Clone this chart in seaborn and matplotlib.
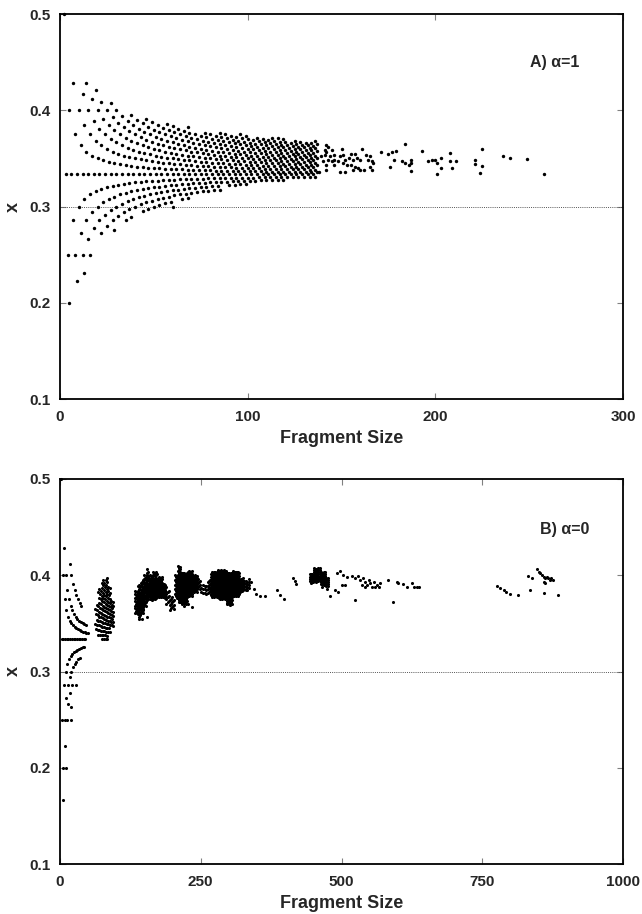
import numpy as np
import pandas as pd
import matplotlib
matplotlib.use("Agg")
import matplotlib.pyplot as plt
import seaborn as sns

# ---------------- Panel A (alpha = 1) ----------------
# Compositions come as fractions k/n of a fragment of size n.
# Dense part: for each band of sizes, every fraction k/n that lies in [lo, hi].
band_a_start = [2, 3, 7, 10, 14, 17, 23, 31, 41, 51, 61, 71, 86, 101, 121]
band_a_end = [2, 6, 9, 13, 16, 22, 30, 40, 50, 60, 70, 85, 100, 120, 137]
band_a_lo = [0.50, 0.19, 0.22, 0.225, 0.245, 0.265, 0.27, 0.285, 0.295, 0.300, 0.307, 0.315, 0.322, 0.326, 0.330]
band_a_hi = [0.50, 0.41, 0.43, 0.42, 0.43, 0.425, 0.41, 0.397, 0.392, 0.388, 0.383, 0.378, 0.375, 0.372, 0.368]
band_a_step = [1] * 15

# Sparse tail of large fragments
sparse_a_size = [142, 143, 141, 142, 145, 139, 141, 144, 146, 140, 143, 145, 146, 142, 146, 138, 142,
                 150, 149, 151, 152, 148, 151, 153, 149, 152,
                 155, 157, 154, 156, 158, 160, 155, 157, 159, 156, 160,
                 161, 163, 165, 164, 166, 167, 165, 162, 166,
                 171, 175, 177, 179, 184, 178, 176, 182, 184, 186, 187, 187, 187,
                 193, 196, 198, 200, 203, 201, 203, 201, 208, 208, 211, 209,
                 225, 221, 221, 225, 224, 236, 240, 249, 258]
sparse_a_x = [0.364, 0.362, 0.359, 0.357, 0.359, 0.352, 0.354, 0.352, 0.354, 0.347, 0.348, 0.347, 0.348, 0.343, 0.343, 0.336, 0.338,
              0.360, 0.352, 0.354, 0.348, 0.347, 0.345, 0.343, 0.336, 0.336,
              0.355, 0.355, 0.350, 0.348, 0.350, 0.348, 0.343, 0.341, 0.340, 0.338, 0.338,
              0.360, 0.354, 0.352, 0.348, 0.347, 0.345, 0.341, 0.338, 0.338,
              0.357, 0.355, 0.357, 0.358, 0.365, 0.348, 0.341, 0.347, 0.345, 0.343, 0.348, 0.345, 0.337,
              0.358, 0.347, 0.348, 0.348, 0.350, 0.345, 0.340, 0.3335, 0.356, 0.347, 0.347, 0.340,
              0.360, 0.348, 0.344, 0.3425, 0.335, 0.352, 0.350, 0.349, 0.3335]

# ---------------- Panel B (alpha = 0) ----------------
# Small fragments: (size, count) pairs, x = count / size
small_b_size = [2, 3, 6, 9, 12, 15, 18, 21, 24, 27, 30, 33, 36, 39, 42, 45,
                8, 11, 14, 17, 20, 23, 26, 29, 32, 35, 38, 41, 44, 47, 50,
                7, 10, 13, 16, 19, 22, 25, 28, 31, 34, 37, 40, 43, 46,
                17, 20, 23, 26, 29, 32, 35, 38,
                7, 10, 13, 16, 19, 22, 25, 28, 31, 34, 37, 40, 43,
                8, 11, 14, 17, 20, 23, 26, 29, 32, 35,
                5, 5, 10, 4, 12, 20, 6, 9, 15, 18, 19, 21, 28]
small_b_count = [1, 1, 2, 3, 4, 5, 6, 7, 8, 9, 10, 11, 12, 13, 14, 15,
                 3, 4, 5, 6, 7, 8, 9, 10, 11, 12, 13, 14, 15, 16, 17,
                 3, 4, 5, 6, 7, 8, 9, 10, 11, 12, 13, 14, 15, 16,
                 7, 8, 9, 10, 11, 12, 13, 14,
                 2, 3, 4, 5, 6, 7, 8, 9, 10, 11, 12, 13, 14,
                 2, 3, 4, 5, 6, 7, 8, 9, 10, 11,
                 2, 1, 2, 1, 3, 5, 1, 2, 4, 5, 5, 6, 8]

# Dense clusters: fractions k/n with size in [start, end] (every `step`) and x in [lo, hi]
band_b_start = [63, 68, 73, 79, 85, 90,
                133, 139, 143, 149, 154, 157, 166, 173, 183, 189, 195,
                205, 210, 215, 226, 236, 245, 251,
                262, 269, 281, 296, 306, 319, 327,
                444, 451, 463, 473]
band_b_end = [67, 72, 78, 84, 89, 95,
              138, 142, 148, 153, 156, 165, 172, 182, 188, 194, 203,
              209, 214, 225, 235, 244, 250, 260,
              268, 280, 295, 305, 318, 326, 336,
              450, 462, 472, 478]
band_b_lo = [0.340, 0.335, 0.330, 0.330, 0.338, 0.345,
             0.360, 0.353, 0.360, 0.368, 0.372, 0.374, 0.375, 0.377, 0.376, 0.368, 0.364,
             0.376, 0.372, 0.370, 0.378, 0.382, 0.385, 0.380,
             0.380, 0.377, 0.375, 0.370, 0.378, 0.382, 0.384,
             0.392, 0.393, 0.390, 0.388]
band_b_hi = [0.372, 0.388, 0.395, 0.398, 0.390, 0.375,
             0.385, 0.392, 0.395, 0.400, 0.409, 0.400, 0.404, 0.398, 0.392, 0.385, 0.378,
             0.400, 0.410, 0.403, 0.405, 0.400, 0.396, 0.390,
             0.395, 0.404, 0.406, 0.403, 0.404, 0.398, 0.396,
             0.402, 0.408, 0.404, 0.398]
band_b_step = [1, 1, 1, 1, 1, 1,
               1, 1, 1, 1, 1, 1, 1, 1, 1, 2, 2,
               1, 1, 1, 1, 1, 2, 3,
               2, 1, 1, 1, 1, 2, 3,
               2, 2, 2, 3]

# Scattered large fragments
sparse_b_size = [142, 145, 154, 148, 213, 220, 228, 234, 302,
                 340, 345, 349, 355, 364, 385, 391, 397, 414, 417, 420,
                 465, 474, 480, 489, 494, 500, 506, 524, 592,
                 492, 497, 503, 509, 518, 524, 530, 533, 539, 542, 545, 548, 551, 557, 563, 568,
                 536, 542, 554, 560, 566, 583, 598, 601, 610, 616, 625, 628, 634, 638,
                 776, 782, 788, 793, 799, 814, 835, 832, 838, 847, 850, 853, 856, 859, 862,
                 865, 867, 870, 873, 876, 859, 862, 859, 885]
sparse_b_x = [0.360, 0.355, 0.357, 0.364, 0.372, 0.368, 0.370, 0.367, 0.369,
              0.393, 0.386, 0.381, 0.378, 0.378, 0.385, 0.380, 0.375, 0.397, 0.394, 0.391,
              0.388, 0.386, 0.378, 0.385, 0.383, 0.390, 0.390, 0.374, 0.3725,
              0.402, 0.404, 0.400, 0.3985, 0.399, 0.397, 0.399, 0.395, 0.397, 0.393, 0.390, 0.395, 0.3915, 0.393, 0.390, 0.392,
              0.390, 0.388, 0.388, 0.3875, 0.388, 0.395, 0.393, 0.3915, 0.391, 0.388, 0.3915, 0.388, 0.3875, 0.388,
              0.389, 0.3865, 0.385, 0.383, 0.3805, 0.380, 0.385, 0.399, 0.397, 0.406, 0.4035, 0.402, 0.400, 0.3985, 0.397,
              0.3985, 0.397, 0.3955, 0.397, 0.395, 0.393, 0.3915, 0.382, 0.3795]

ticks_a_x = [0, 100, 200, 300]
ticks_b_x = [0, 250, 500, 750, 1000]
ticks_y = [0.1, 0.2, 0.3, 0.4, 0.5]


def band_points(starts, ends, los, his, steps):
    rows = []
    for s, e, lo, hi, st in zip(starts, ends, los, his, steps):
        for n in range(s, e + 1, st):
            for k in range(n + 1):
                v = k / n
                if lo - 1e-9 <= v <= hi + 1e-9:
                    rows.append((n, v))
    return rows


pts_a = band_points(band_a_start, band_a_end, band_a_lo, band_a_hi, band_a_step)
pts_a += list(zip(sparse_a_size, sparse_a_x))
df_a = pd.DataFrame(pts_a, columns=["size", "x"])

pts_b = [(n, k / n) for n, k in zip(small_b_size, small_b_count)]
pts_b += band_points(band_b_start, band_b_end, band_b_lo, band_b_hi, band_b_step)
pts_b += list(zip(sparse_b_size, sparse_b_x))
df_b = pd.DataFrame(pts_b, columns=["size", "x"])

sns.set_style("ticks")
plt.rcParams["font.family"] = ["Liberation Sans", "DejaVu Sans"]
plt.rcParams["font.weight"] = "bold"

fig = plt.figure(figsize=(6.42, 9.14), dpi=100)
ax_a = fig.add_axes([60 / 642, 1 - 399 / 914, 563 / 642, 385 / 914])
ax_b = fig.add_axes([60 / 642, 1 - 864 / 914, 563 / 642, 385 / 914])


def style_axes(ax, xticks, xmax, label, lx, ly):
    ax.set_xlim(0, xmax)
    ax.set_ylim(0.1, 0.5)
    ax.axhline(0.3, color="#555555", lw=0.7, ls=(0, (1, 1.2)), zorder=1)
    ax.set_xticks(xticks)
    ax.set_xticklabels([str(t) for t in xticks])
    ax.set_yticks(ticks_y)
    ax.set_yticklabels([f"{t:.1f}" for t in ticks_y])
    ax.tick_params(direction="in", length=4, width=0.8, color="#808080",
                   top=True, right=True, labelsize=11, pad=7)
    ax.tick_params(axis="x", pad=8)
    for sp in ax.spines.values():
        sp.set_visible(True)
        sp.set_linewidth(1.3)
        sp.set_color("black")
    ax.set_xlabel("Fragment Size", fontsize=13, fontweight="bold", labelpad=4)
    ax.set_ylabel("x", fontsize=13, fontweight="bold", labelpad=5, rotation=90)
    ax.text(lx, ly, label, transform=ax.transAxes, fontsize=11.5,
            fontweight="bold", ha="left", va="center")


sns.scatterplot(data=df_a, x="size", y="x", ax=ax_a, color="black", s=6,
                linewidth=0, legend=False, zorder=3, clip_on=False)
style_axes(ax_a, ticks_a_x, 300, "A) α=1", 0.835, 0.873)

sns.scatterplot(data=df_b, x="size", y="x", ax=ax_b, color="black", s=5,
                linewidth=0, legend=False, zorder=3, clip_on=False)
style_axes(ax_b, ticks_b_x, 1000, "B) α=0", 0.853, 0.870)

fig.savefig("out.png", dpi=100)
